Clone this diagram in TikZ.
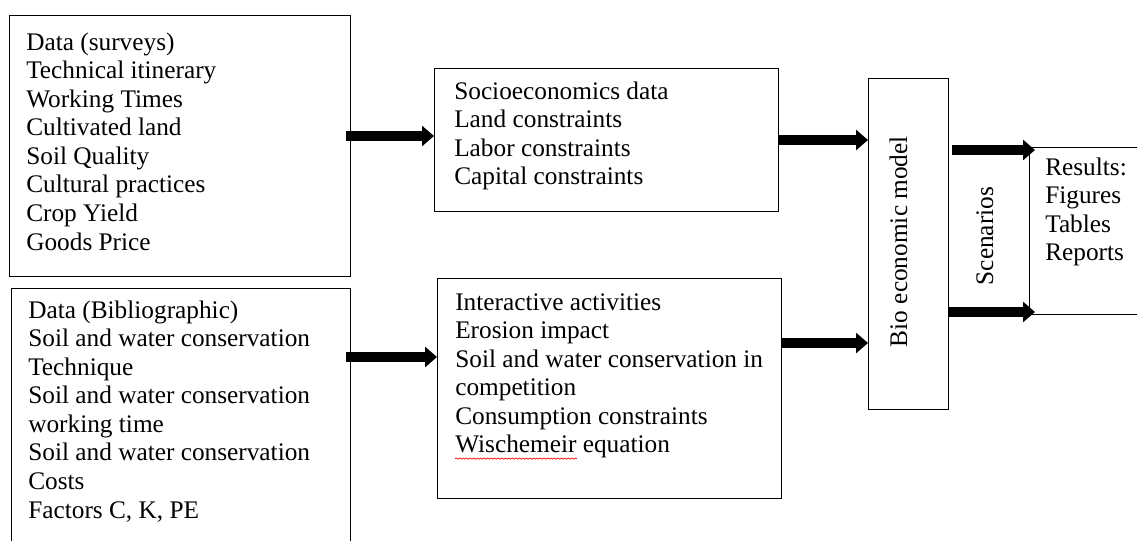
\documentclass[tikz,border=0pt]{standalone}
\usepackage{fontspec}
\setmainfont{Liberation Serif}
\usetikzlibrary{arrows.meta,decorations.pathmorphing}

\begin{document}
\begin{tikzpicture}[
    box/.style={draw, line width=0.9pt, anchor=north west, inner sep=0pt},
    txt/.style={font=\fontsize{18pt}{20.3pt}\selectfont, align=left, anchor=north west, inner sep=0pt},
    vtxt/.style={font=\fontsize{18pt}{20.3pt}\selectfont, rotate=90, anchor=base, inner sep=0pt},
    flow/.style={line width=0.23cm, -{Triangle[length=0.3cm, width=0.5cm]}},
    spell/.style={draw=red, line width=0.5pt, decorate, decoration={snake, amplitude=0.4pt, segment length=2.5pt}},
  ]
    \useasboundingbox (0,0) rectangle (28.425,-13.5);
    \clip (0,0) rectangle (28.425,-13.5);
    \node[box, minimum width=8.525cm, minimum height=6.525cm] (surv) at (0.225,-0.375) {};
    \node[box, minimum width=8.475cm, minimum height=7cm] (bibl) at (0.275,-7.2) {};
    \node[box, minimum width=8.6cm, minimum height=3.575cm] (socio) at (10.85,-1.7) {};
    \node[box, minimum width=8.6cm, minimum height=5.5cm] (inter) at (10.925,-6.95) {};
    \node[box, minimum width=2cm, minimum height=8.275cm] (bio) at (21.7,-1.95) {};
    \node[box, minimum width=3.5cm, minimum height=4.175cm] (res) at (25.725,-3.675) {};
    \node[txt] (survtxt) at (0.65,-0.75) {\strut Data (surveys)\\Technical itinerary\\Working Times\\Cultivated land\\Soil Quality\\Cultural practices\\Crop Yield\\Goods Price};
    \node[txt] (bibltxt) at (0.7,-7.45) {\strut Data (Bibliographic)\\Soil and water conservation\\Technique\\Soil and water conservation\\working time\\Soil and water conservation\\Costs\\Factors C, K, PE};
    \node[txt] (sociotxt) at (11.35,-1.975) {\strut Socioeconomics data\\Land constraints\\Labor constraints\\Capital constraints};
    \node[txt] (intertxt) at (11.375,-7.25) {\strut Interactive activities\\Erosion impact\\Soil and water conservation in\\competition\\Consumption constraints\\Wischemeir equation};
    \node[txt] (restxt) at (26.125,-3.875) {\strut Results:\\Figures\\Tables\\Reports};
    \node[vtxt] (biotxt) at (22.675,-6.04) {Bio economic model};
    \node[vtxt] (scen) at (24.825,-5.9) {Scenarios};
    \draw[spell] (intertxt.south west) -- ([xshift=3.05cm]intertxt.south west);
    \draw[flow, shorten <=-0.125cm] (surv.east |- 0,-3.4) -- (socio.west |- 0,-3.4);
    \draw[flow, shorten <=-0.125cm] (bibl.east |- 0,-8.925) -- (inter.west |- 0,-8.925);
    \draw[flow] (socio.east |- 0,-3.5) -- (bio.west |- 0,-3.5);
    \draw[flow] (inter.east |- 0,-8.575) -- (bio.west |- 0,-8.575);
    \draw[flow, shorten <=0.075cm, shorten >=-0.15cm] (bio.east |- 0,-3.75) -- (res.west |- 0,-3.75);
    \draw[flow, shorten >=-0.15cm] (bio.east |- 0,-7.8) -- (res.west |- 0,-7.8);
  \end{tikzpicture}
\end{document}
